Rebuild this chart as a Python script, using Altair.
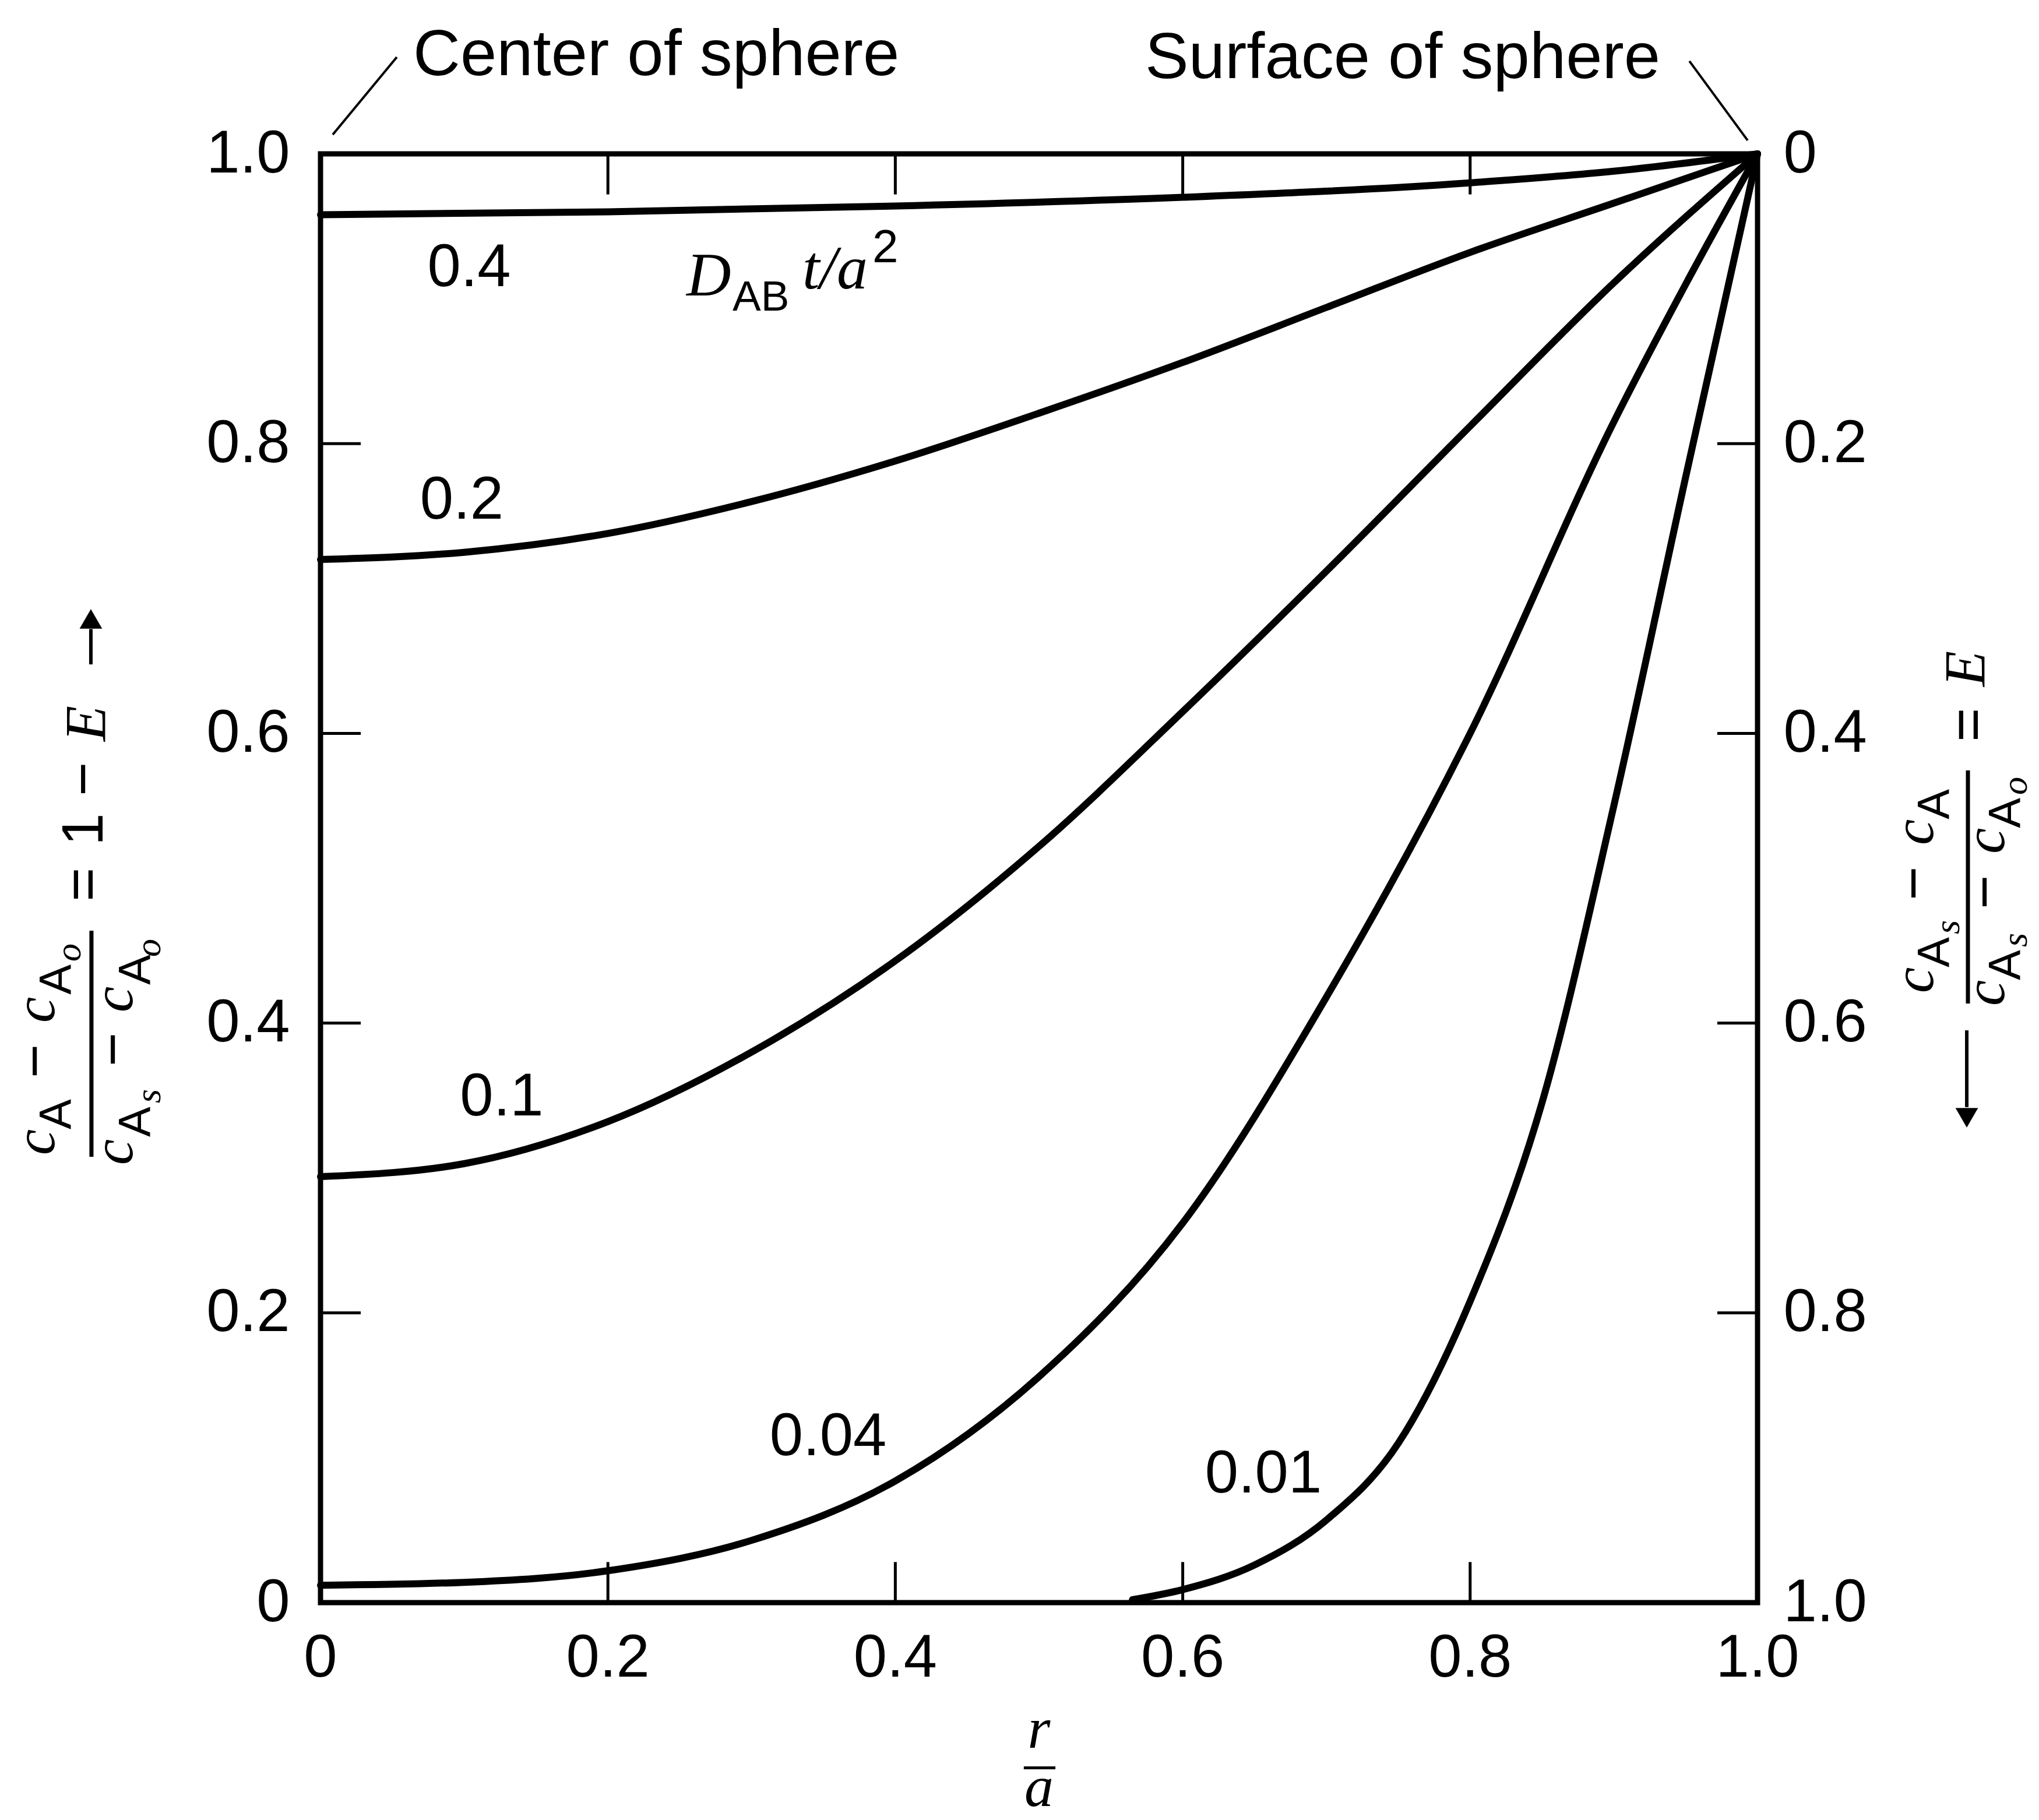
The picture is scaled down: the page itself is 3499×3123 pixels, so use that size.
import altair as alt
import pandas as pd

# ---------------- curve data ----------------
# r/a  and  (cA - cA0)/(cAs - cA0)  for each value of D_AB t / a^2
r_t04 = [0.0, 0.2, 0.4, 0.6, 0.8, 0.9, 1.0]
v_t04 = [0.958, 0.960, 0.964, 0.970, 0.980, 0.988, 1.0]

r_t02 = [0.0, 0.1, 0.2, 0.3, 0.4, 0.5, 0.6, 0.7, 0.8, 0.9, 1.0]
v_t02 = [0.720, 0.725, 0.738, 0.760, 0.788, 0.821, 0.856, 0.894, 0.932, 0.966, 1.0]

r_t01 = [0.0, 0.1, 0.2, 0.3, 0.4, 0.5, 0.6, 0.7, 0.8, 0.9, 1.0]
v_t01 = [0.294, 0.303, 0.332, 0.380, 0.443, 0.522, 0.615, 0.712, 0.812, 0.911, 1.0]

r_t004 = [0.0, 0.1, 0.2, 0.3, 0.4, 0.5, 0.6, 0.7, 0.8, 0.9, 0.95, 1.0]
v_t004 = [0.012, 0.014, 0.022, 0.043, 0.084, 0.156, 0.262, 0.418, 0.600, 0.815, 0.910, 1.0]

r_t001 = [0.565, 0.6, 0.65, 0.7, 0.75, 0.8, 0.85, 0.9, 0.95, 1.0]
v_t001 = [0.002, 0.009, 0.026, 0.057, 0.110, 0.208, 0.345, 0.550, 0.777, 1.0]

series_names = ["0.4", "0.2", "0.1", "0.04", "0.01"]
series_r = [r_t04, r_t02, r_t01, r_t004, r_t001]
series_v = [v_t04, v_t02, v_t01, v_t004, v_t001]

# axis values / tick marks
axis_values = [0.0, 0.2, 0.4, 0.6, 0.8, 1.0]
tick_values = [0.2, 0.4, 0.6, 0.8]
x_tick_labels = ["0", "0.2", "0.4", "0.6", "0.8", "1.0"]

# curve labels
curve_label_text = ["0.4", "0.2", "0.1", "0.04", "0.01"]
curve_label_r = [0.1034, 0.0983, 0.1261, 0.3532, 0.6561]
curve_label_v = [0.9087, 0.7482, 0.3363, 0.1018, 0.0760]

# ---------------- build tables ----------------
curve_df = pd.concat(
    [pd.DataFrame({"tau": n, "r": rs, "v": vs}) for n, rs, vs in zip(series_names, series_r, series_v)],
    ignore_index=True,
)

XS = alt.Scale(domain=[0, 1], nice=False, zero=False)
YS = alt.Scale(domain=[0, 1], nice=False, zero=False)
SANS = "Liberation Sans"
SERIF = "Liberation Serif"
LBL = 103
TICK = 0.028

fmt = "datum.value < 0.001 ? '0' : format(datum.value, '.1f')"
fmt_right = "(1 - datum.value) < 0.001 ? '0' : format(1 - datum.value, '.1f')"


def make_axis(orient, expr, pad):
    return alt.Axis(
        orient=orient, values=axis_values, labelExpr=expr, ticks=False, tickSize=0,
        domain=False, grid=False, title=None, labelFont=SANS, labelFontSize=LBL,
        labelColor="black", labelPadding=pad, labelFlush=False, labelOverlap=False,
    )


curves = alt.Chart(curve_df).mark_line(
    color="black", strokeWidth=12, interpolate="monotone", strokeCap="round"
).encode(
    x=alt.X("r:Q", scale=XS, axis=None),
    y=alt.Y("v:Q", scale=YS, axis=make_axis("left", fmt, 53)),
    detail="tau:N",
)

n = len(tick_values)
right_ticks = alt.Chart(pd.DataFrame({"v": tick_values, "r1": [1 - TICK] * n, "r2": [1.0] * n})).mark_rule(
    color="black", strokeWidth=5
).encode(
    y=alt.Y("v:Q", scale=YS, axis=make_axis("right", fmt_right, 44)),
    x=alt.X("r1:Q", scale=XS, axis=None),
    x2="r2:Q",
)

left_ticks = alt.Chart(pd.DataFrame({"v": tick_values, "r1": [0.0] * n, "r2": [TICK] * n})).mark_rule(
    color="black", strokeWidth=5
).encode(
    y=alt.Y("v:Q", scale=YS, axis=None),
    x=alt.X("r1:Q", scale=XS, axis=None),
    x2="r2:Q",
)

bottom_ticks = alt.Chart(pd.DataFrame({"r": tick_values, "v1": [0.0] * n, "v2": [TICK] * n})).mark_rule(
    color="black", strokeWidth=5
).encode(
    x=alt.X("r:Q", scale=XS, axis=None),
    y=alt.Y("v1:Q", scale=YS, axis=None),
    y2="v2:Q",
)

top_ticks = alt.Chart(pd.DataFrame({"r": tick_values, "v1": [1 - TICK] * n, "v2": [1.0] * n})).mark_rule(
    color="black", strokeWidth=5
).encode(
    x=alt.X("r:Q", scale=XS, axis=None),
    y=alt.Y("v1:Q", scale=YS, axis=None),
    y2="v2:Q",
)

# ---------------- annotations ----------------
# (text, r, v, fontSize, angle)
sans_left = [
    ("AB", 0.2867, 0.8918, 73, 0),
    ("2", 0.384, 0.9252, 80, 0),
    ("Center of sphere", 0.0645, 1.0543, 112, 0),
    # left title  c_A - c_A0 / c_As - c_A0 = 1 - E
    ("A", -0.1736, 0.3266, 78, 270),
    ("\u2212", -0.1853, 0.3620, 100, 270),
    ("A", -0.1736, 0.4196, 78, 270),
    ("A", -0.1184, 0.3214, 78, 270),
    ("\u2212", -0.1310, 0.3701, 100, 270),
    ("A", -0.1184, 0.4264, 78, 270),
    ("=", -0.1517, 0.4839, 100, 270),
    ("1", -0.1517, 0.5225, 100, 270),
    ("\u2212", -0.1517, 0.5567, 100, 270),
    # right title  c_As - c_A / c_As - c_A0 = E
    ("A", 1.1334, 0.4385, 78, 270),
    ("\u2212", 1.1221, 0.4847, 100, 270),
    ("A", 1.1334, 0.5406, 78, 270),
    ("A", 1.1830, 0.4296, 78, 270),
    ("\u2212", 1.1715, 0.4787, 100, 270),
    ("A", 1.1830, 0.5346, 78, 270),
    ("=", 1.160, 0.5941, 100, 270),
]

serif_left = [
    ("D", 0.2547, 0.9023, 106, 0),
    ("t/a", 0.3354, 0.9071, 106, 0),
    ("c", -0.1853, 0.3089, 100, 270),
    ("c", -0.1853, 0.4002, 100, 270),
    ("o", -0.1671, 0.4425, 62, 270),
    ("c", -0.1310, 0.3021, 100, 270),
    ("s", -0.1115, 0.3447, 62, 270),
    ("c", -0.1310, 0.4075, 100, 270),
    ("o", -0.1115, 0.4457, 62, 270),
    ("E", -0.1500, 0.5945, 100, 270),
    ("c", 1.1221, 0.4208, 100, 270),
    ("s", 1.1403, 0.4614, 62, 270),
    ("c", 1.1221, 0.5229, 100, 270),
    ("c", 1.1715, 0.4119, 100, 270),
    ("s", 1.1875, 0.4525, 62, 270),
    ("c", 1.1715, 0.5169, 100, 270),
    ("o", 1.1875, 0.5575, 62, 270),
    ("E", 1.1578, 0.6323, 100, 270),
]

sans_right = [("Surface of sphere", 0.9323, 1.0523, 112, 0)]
serif_center = [("r", 0.5, -0.1000, 100, 0), ("a", 0.5, -0.1405, 100, 0)]
sans_center = [(t, r, v, LBL, 0) for t, r, v in zip(curve_label_text, curve_label_r, curve_label_v)]
sans_center += [(t, r, -0.0511, LBL, 0) for t, r in zip(x_tick_labels, axis_values)]


def text_layer(rows, font, style, align):
    df = pd.DataFrame(rows, columns=["t", "r", "v", "s", "a"])
    return alt.Chart(df).mark_text(
        font=font, fontStyle=style, align=align, baseline="alphabetic", color="black"
    ).encode(
        x=alt.X("r:Q", scale=XS, axis=None),
        y=alt.Y("v:Q", scale=YS, axis=None),
        text="t:N",
        size=alt.Size("s:Q", scale=None),
        angle=alt.Angle("a:Q", scale=None),
    )


# lines: fraction bars, leader lines, arrow shafts  (r, v, r2, v2, width)
rule_rows = [
    (-0.1594, 0.3077, -0.1594, 0.4638, 7),
    (1.1464, 0.4135, 1.1464, 0.5744, 7),
    (0.4894, -0.1140, 0.5114, -0.1140, 5),
    (0.0531, 1.0668, 0.00852, 1.0133, 4),
    (0.9526, 1.0640, 0.9931, 1.0093, 4),
    (-0.1598, 0.6476, -0.1598, 0.672, 6),
    (1.1456, 0.395, 1.1456, 0.342, 6),
]
rules = alt.Chart(pd.DataFrame(rule_rows, columns=["r", "v", "r2", "v2", "w"])).mark_rule(
    color="black"
).encode(
    x=alt.X("r:Q", scale=XS, axis=None),
    y=alt.Y("v:Q", scale=YS, axis=None),
    x2="r2:Q",
    y2="v2:Q",
    strokeWidth=alt.StrokeWidth("w:Q", scale=None),
)

head_rows = [(-0.1598, 0.679, "triangle-up"), (1.1456, 0.3347, "triangle-down")]
heads = alt.Chart(pd.DataFrame(head_rows, columns=["r", "v", "shp"])).mark_point(
    filled=True, color="black", size=1500, opacity=1
).encode(
    x=alt.X("r:Q", scale=XS, axis=None),
    y=alt.Y("v:Q", scale=YS, axis=None),
    shape=alt.Shape("shp:N", scale=None),
)

chart = alt.layer(
    curves,
    right_ticks,
    left_ticks,
    bottom_ticks,
    top_ticks,
    rules,
    heads,
    text_layer(sans_left, SANS, "normal", "left"),
    text_layer(serif_left, SERIF, "italic", "left"),
    text_layer(sans_right, SANS, "normal", "right"),
    text_layer(serif_center, SERIF, "italic", "center"),
    text_layer(sans_center, SANS, "normal", "center"),
).resolve_axis(y="independent").properties(
    width=2466,
    height=2486,
    padding={"left": 550, "top": 264, "right": 483, "bottom": 373},
    autosize=alt.AutoSizeParams(type="none"),
    background="white",
).configure_view(stroke="black", strokeWidth=9)

chart.save("out.html", embed_options={"renderer": "svg", "actions": False})
